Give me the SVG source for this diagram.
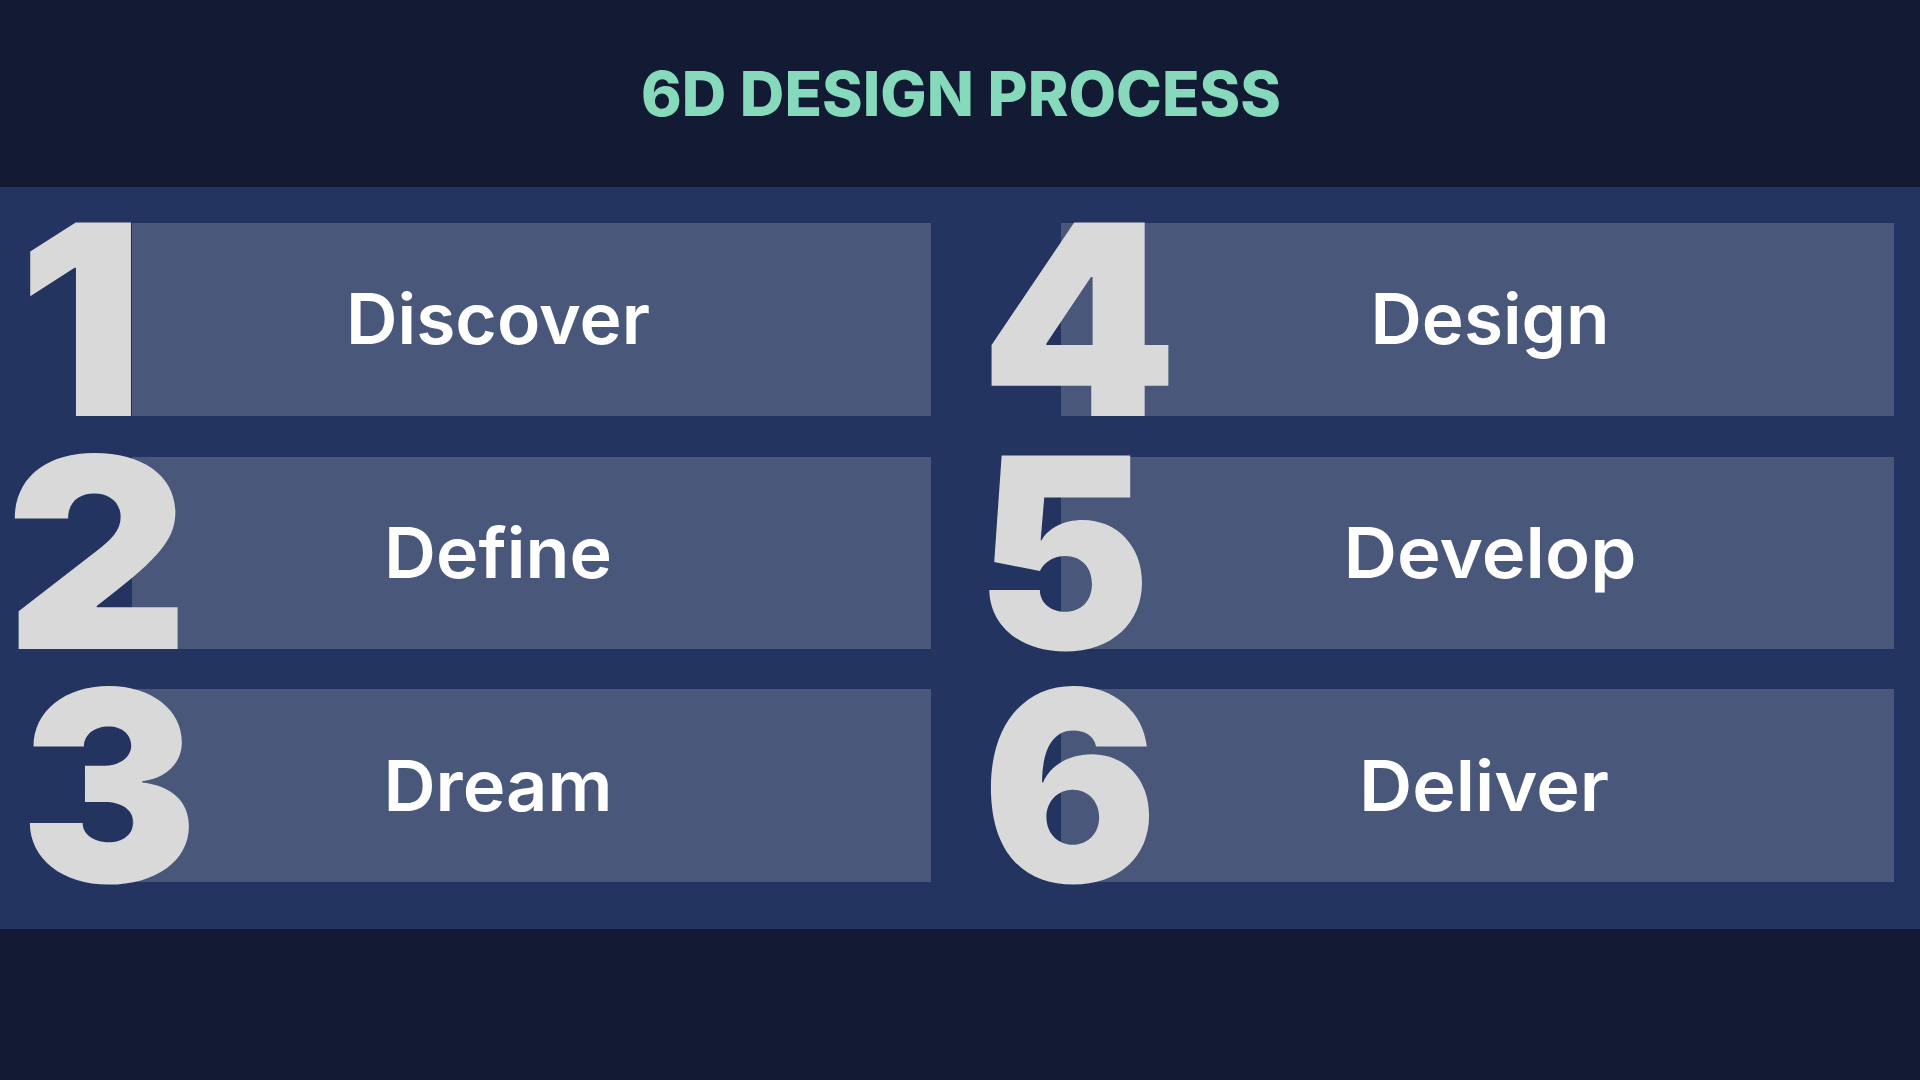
<svg xmlns="http://www.w3.org/2000/svg" width="1920" height="1080" viewBox="0 0 1920 1080">
  <style>
    .box { fill: #49587a; }
    .num { font-family: Inter, "Noto Sans", "DejaVu Sans", sans-serif; font-weight: 900; font-size: 266px; fill: #d9d9d9; }
    .lbl { font-family: Inter, "Open Sans", "DejaVu Sans", sans-serif; font-weight: 600; font-size: 70px; fill: #ffffff; text-anchor: middle; }
    .title { font-family: Inter, "Open Sans", "DejaVu Sans", sans-serif; font-weight: 800; font-size: 62px; fill: #86d9bb; text-anchor: middle; }
  </style>
  <rect x="0" y="0" width="1920" height="1080" fill="#131a33"/>
  <rect x="0" y="187" width="1920" height="742" fill="#233461"/>
  <text class="title" x="961" y="116" textLength="640" lengthAdjust="spacingAndGlyphs">6D DESIGN PROCESS</text>

  <g id="node-1">
    <rect class="box" x="132" y="223" width="799" height="193"/>
    <text class="num" x="18" y="416" textLength="126" lengthAdjust="spacingAndGlyphs">1</text>
    <text class="lbl" x="498" y="344" textLength="304" lengthAdjust="spacingAndGlyphs">Discover</text>
  </g>
  <g id="node-2">
    <rect class="box" x="132" y="457" width="799" height="192"/>
    <text class="num" x="5" y="649" textLength="184" lengthAdjust="spacingAndGlyphs">2</text>
    <text class="lbl" x="498" y="578" textLength="228" lengthAdjust="spacingAndGlyphs">Define</text>
  </g>
  <g id="node-3">
    <rect class="box" x="132" y="689" width="799" height="193"/>
    <text class="num" x="20" y="882" textLength="178" lengthAdjust="spacingAndGlyphs">3</text>
    <text class="lbl" x="498" y="811" textLength="229" lengthAdjust="spacingAndGlyphs">Dream</text>
  </g>
  <g id="node-4">
    <rect class="box" x="1061" y="223" width="833" height="193"/>
    <text class="num" x="980" y="416" textLength="198" lengthAdjust="spacingAndGlyphs">4</text>
    <text class="lbl" x="1490" y="344" textLength="239" lengthAdjust="spacingAndGlyphs">Design</text>
  </g>
  <g id="node-5">
    <rect class="box" x="1061" y="457" width="833" height="192"/>
    <text class="num" x="976" y="649" textLength="175" lengthAdjust="spacingAndGlyphs">5</text>
    <text class="lbl" x="1490" y="578" textLength="293" lengthAdjust="spacingAndGlyphs">Develop</text>
  </g>
  <g id="node-6">
    <rect class="box" x="1061" y="689" width="833" height="193"/>
    <text class="num" x="982" y="882" textLength="176" lengthAdjust="spacingAndGlyphs">6</text>
    <text class="lbl" x="1484" y="811" textLength="250" lengthAdjust="spacingAndGlyphs">Deliver</text>
  </g>
  <g id="connectors"></g>
</svg>
